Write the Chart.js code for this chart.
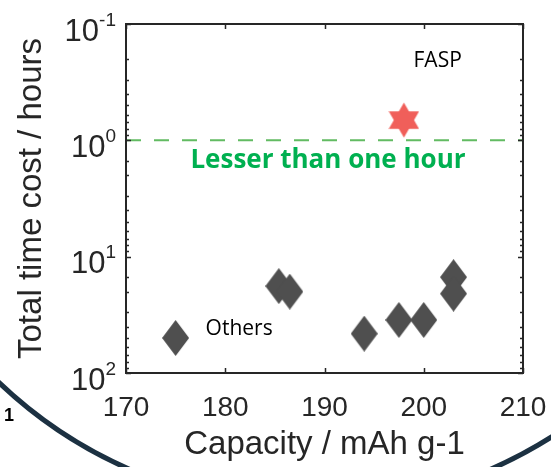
<!DOCTYPE html>
<html>
<head>
<meta charset="utf-8">
<script src="https://cdn.jsdelivr.net/npm/chart.js@4"></script>
<style>
  html, body { margin: 0; padding: 0; background: #fff; }
  #wrap { width: 551px; height: 467px; }
</style>
</head>
<body>
<div id="wrap"><canvas id="costChart" width="551" height="467"></canvas></div>
<script>
// data
const capacityOthers = [175, 185.4, 186.5, 194, 197.5, 200, 203, 203];
const timeOthers = [50, 17.9, 20, 45.9, 35, 35, 15, 20.8];
const capacityFasp = [198];
const timeFasp = [0.67];
const thresholdX = [170, 210];
const thresholdY = [1, 1];
const xTickValues = [170, 180, 190, 200, 210];
const yTickValues = [0.1, 1, 10, 100];
const yTickExps = ['-1', '0', '1', '2'];

const axisColor = '#262626';

// MATLAB style markers
function diamondMarker(w, h, color) {
    const c = document.createElement('canvas');
    c.width = w; c.height = h;
    const g = c.getContext('2d');
    g.fillStyle = color;
    g.beginPath();
    g.moveTo(w / 2, 0);
    g.lineTo(w, h / 2);
    g.lineTo(w / 2, h);
    g.lineTo(0, h / 2);
    g.closePath();
    g.fill();
    return c;
}

function hexagramMarker(r, color) {
    const w = Math.ceil(r * 1.75), h = Math.ceil(r * 2) + 1;
    const c = document.createElement('canvas');
    c.width = w; c.height = h;
    const g = c.getContext('2d');
    const cx = w / 2, cy = h / 2;
    g.fillStyle = color;
    [-90, 90].forEach(start => {
        g.beginPath();
        for (let k = 0; k < 3; k++) {
            const a = (start + k * 120) * Math.PI / 180;
            const px = cx + r * Math.cos(a), py = cy + r * Math.sin(a);
            k === 0 ? g.moveTo(px, py) : g.lineTo(px, py);
        }
        g.closePath();
        g.fill();
    });
    return c;
}

// frame, inward ticks, superscript labels, annotations and the cut-off circle
const decorations = {
    id: 'decorations',
    afterDatasetsDraw(chart) {
        const ctx = chart.ctx;
        const area = chart.chartArea;
        const xs = chart.scales.x, ys = chart.scales.y;
        ctx.save();

        // annotations
        ctx.textAlign = 'center';
        ctx.textBaseline = 'middle';
        ctx.fillStyle = '#000';
        ctx.font = '21px "Open Sans"';
        ctx.fillText('FASP', xs.getPixelForValue(201.4), ys.getPixelForValue(0.208));
        ctx.fillText('Others', xs.getPixelForValue(181.4), ys.getPixelForValue(41.9));
        ctx.fillStyle = '#00b050';
        ctx.font = 'bold 26px "Open Sans"';
        ctx.fillText('Lesser than one hour', xs.getPixelForValue(190.35), ys.getPixelForValue(1.5));

        // box
        ctx.strokeStyle = axisColor;
        ctx.lineWidth = 2;
        ctx.strokeRect(area.left, area.top, area.right - area.left, area.bottom - area.top);

        // y ticks (log, major + minor) on both sides
        ctx.lineWidth = 1.5;
        ctx.beginPath();
        ys.ticks.forEach(t => {
            const py = Math.round(ys.getPixelForValue(t.value)) + 0.5;
            const major = Math.abs(Math.log10(t.value) - Math.round(Math.log10(t.value))) < 1e-6;
            const len = major ? 5 : 3;
            ctx.moveTo(area.left, py); ctx.lineTo(area.left + len, py);
            ctx.moveTo(area.right, py); ctx.lineTo(area.right - len, py);
        });
        // x ticks on both sides
        xTickValues.forEach(v => {
            const px = Math.round(xs.getPixelForValue(v)) + 0.5;
            ctx.moveTo(px, area.bottom); ctx.lineTo(px, area.bottom - 5);
            ctx.moveTo(px, area.top); ctx.lineTo(px, area.top + 5);
        });
        ctx.stroke();

        // y tick labels as 10^n
        ctx.fillStyle = axisColor;
        ctx.textAlign = 'right';
        ctx.textBaseline = 'alphabetic';
        yTickValues.forEach((v, i) => {
            const py = ys.getPixelForValue(v);
            ctx.font = '19px "Liberation Sans", Arial, sans-serif';
            const expW = ctx.measureText(yTickExps[i]).width;
            ctx.fillText(yTickExps[i], 116, py + 1.5);
            ctx.font = '31px "Liberation Sans", Arial, sans-serif';
            ctx.fillText('10', 116 - expW, py + 16.5);
        });

        // partial circle of the surrounding figure
        ctx.strokeStyle = '#1c3142';
        ctx.lineWidth = 5;
        ctx.beginPath();
        ctx.arc(310, 56, 451, 0, Math.PI * 2);
        ctx.stroke();

        ctx.fillStyle = '#000';
        ctx.textAlign = 'left';
        ctx.font = 'bold 18px "Liberation Sans", Arial, sans-serif';
        ctx.fillText('1', 4, 421);

        ctx.restore();
    }
};

const costCtx = document.getElementById('costChart').getContext('2d');
const costChart = new Chart(costCtx, {
    type: 'scatter',
    data: {
        datasets: [
            {
                label: 'FASP',
                data: capacityFasp.map((x, i) => ({ x: x, y: timeFasp[i] })),
                pointStyle: hexagramMarker(17.5, '#f05f5a'),
                pointRadius: 12
            },
            {
                label: 'Others',
                data: capacityOthers.map((x, i) => ({ x: x, y: timeOthers[i] })),
                pointStyle: diamondMarker(27, 36, '#4f4f4f'),
                pointRadius: 12
            },
            {
                label: 'One hour',
                data: thresholdX.map((x, i) => ({ x: x, y: thresholdY[i] })),
                showLine: true,
                borderColor: '#62bb62',
                borderWidth: 2,
                borderDash: [15, 13],
                pointRadius: 0,
                fill: false
            }
        ]
    },
    options: {
        responsive: false,
        animation: false,
        layout: { padding: { top: 24, right: 28, left: 0, bottom: 0 } },
        scales: {
            x: {
                type: 'linear',
                min: 170,
                max: 210,
                afterFit: scale => {
                    scale.height = 94;
                    scale.paddingLeft = 0;
                    scale.paddingRight = 0;
                },
                afterBuildTicks: scale => { scale.ticks = xTickValues.map(v => ({ value: v })); },
                grid: { display: false, drawTicks: false },
                border: { display: false },
                ticks: {
                    padding: 18,
                    color: axisColor,
                    font: { family: '"Liberation Sans", Arial, sans-serif', size: 28 }
                },
                title: {
                    display: true,
                    text: 'Capacity / mAh g-1',
                    color: axisColor,
                    font: { family: '"Liberation Sans", Arial, sans-serif', size: 33 },
                    padding: { top: 0, bottom: 2 }
                }
            },
            y: {
                type: 'logarithmic',
                reverse: true,
                min: 0.1,
                max: 100,
                afterFit: scale => {
                    scale.width = 126;
                    scale.paddingTop = 0;
                    scale.paddingBottom = 0;
                },
                grid: { display: false, drawTicks: false },
                border: { display: false },
                ticks: { display: false },
                title: {
                    display: true,
                    text: 'Total time cost / hours',
                    color: axisColor,
                    font: { family: '"Liberation Sans", Arial, sans-serif', size: 33 },
                    padding: { top: 12, bottom: 0 }
                }
            }
        },
        plugins: {
            legend: { display: false },
            tooltip: { enabled: false }
        }
    },
    plugins: [decorations]
});
</script>
</body>
</html>
